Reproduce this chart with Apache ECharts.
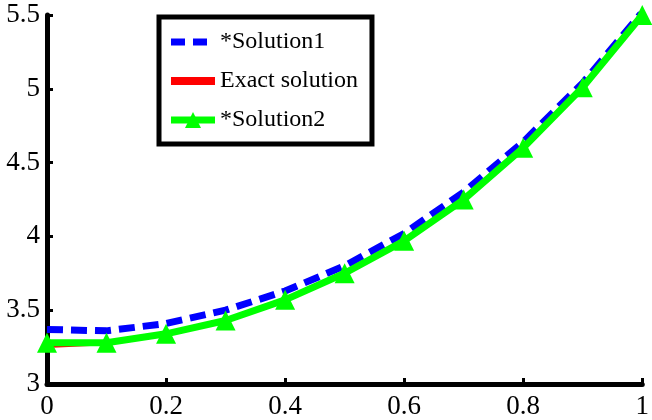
<!DOCTYPE html>
<html>
<head>
<meta charset="utf-8">
<script src="https://cdn.jsdelivr.net/npm/echarts@6/dist/echarts.min.js"></script>
<style>
  html, body { margin: 0; padding: 0; background: #fff; }
  #chart { width: 652px; height: 420px; }
</style>
</head>
<body>
<div id="chart"></div>
<script>
const xValues = [0, 0.1, 0.2, 0.3, 0.4, 0.5, 0.6, 0.7, 0.8, 0.9, 1.0]
const solution1 = [3.37, 3.36, 3.41, 3.50, 3.63, 3.80, 4.02, 4.30, 4.64, 5.04, 5.52]
const exact = [3.25, 3.27, 3.33, 3.43, 3.57, 3.75, 3.97, 4.25, 4.60, 5.01, 5.50]
const solution2 = [3.28, 3.28, 3.34, 3.43, 3.57, 3.75, 3.97, 4.25, 4.60, 5.01, 5.50]
const xTicks = ['0', '0.2', '0.4', '0.6', '0.8', '1']
const yTicks = ['3', '3.5', '4', '4.5', '5', '5.5']

const pairs = ys => xValues.map((x, i) => [x, ys[i]])
const font = 'Liberation Serif'

let myChart = echarts.init(document.getElementById('chart'))
let option = {
  animation: false,
  grid: { left: 47, right: 5, top: 15, bottom: 36, containLabel: false },
  legend: {
    orient: 'vertical',
    left: 159,
    top: 17,
    padding: [13, 14, 12, 8],
    itemGap: 15,
    itemWidth: 44,
    itemHeight: 20,
    borderColor: '#000',
    borderWidth: 5,
    textStyle: { fontFamily: font, fontSize: 24, color: '#000' },
    data: [
      { name: '*Solution1', lineStyle: { width: 7, type: [14, 8] }, itemStyle: { opacity: 0 } },
      { name: 'Exact solution', lineStyle: { width: 8 }, itemStyle: { opacity: 0 } },
      { name: '*Solution2', lineStyle: { width: 7 } }
    ]
  },
  xAxis: {
    type: 'value', min: 0, max: 1, interval: 0.2,
    axisLine: { lineStyle: { color: '#000', width: 5 } },
    axisTick: { inside: true, length: 6, lineStyle: { color: '#000', width: 3 } },
    splitLine: { show: false },
    axisLabel: {
      fontFamily: font, fontSize: 27, color: '#000', margin: 9,
      formatter: v => xTicks[Math.round(v / 0.2)]
    }
  },
  yAxis: {
    type: 'value', min: 3, max: 5.5, interval: 0.5,
    axisLine: { show: true, lineStyle: { color: '#000', width: 5 } },
    axisTick: { show: true, inside: true, length: 6, lineStyle: { color: '#000', width: 3 } },
    splitLine: { show: false },
    axisLabel: {
      fontFamily: font, fontSize: 27, color: '#000', margin: 7,
      formatter: v => yTicks[Math.round((v - 3) / 0.5)]
    }
  },
  series: [
    {
      name: '*Solution1', type: 'line', data: pairs(solution1),
      symbol: 'none',
      lineStyle: { color: '#0000ff', width: 7, type: [16, 8] },
      itemStyle: { color: '#0000ff' }
    },
    {
      name: 'Exact solution', type: 'line', data: pairs(exact),
      symbol: 'none',
      lineStyle: { color: '#ff0000', width: 2 },
      itemStyle: { color: '#ff0000' }
    },
    {
      name: '*Solution2', type: 'line', data: pairs(solution2),
      symbol: 'triangle', symbolSize: 20,
      lineStyle: { color: '#00ff00', width: 7 },
      itemStyle: { color: '#00ff00' }
    }
  ]
}
myChart.setOption(option)
</script>
</body>
</html>
